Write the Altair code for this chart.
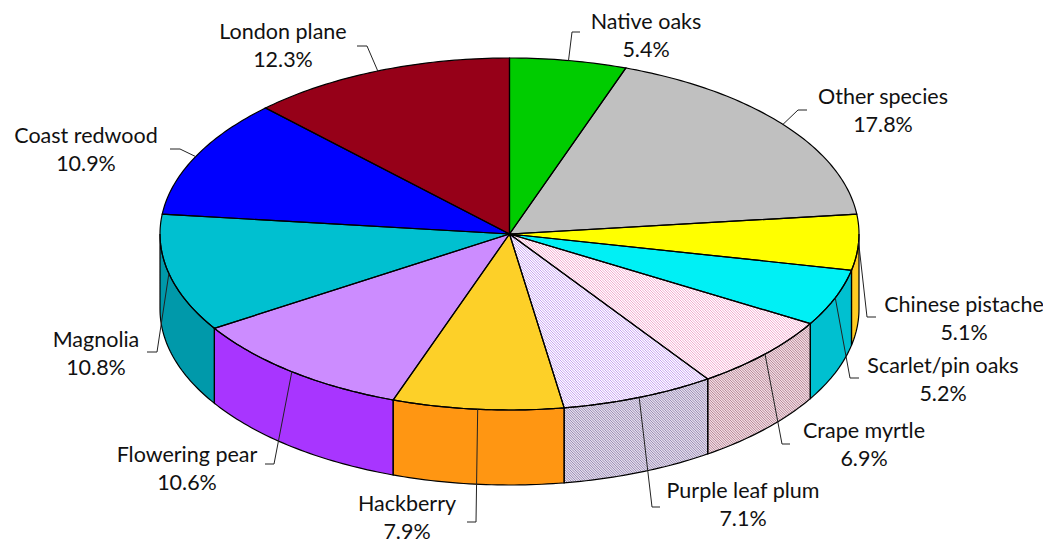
import math
import altair as alt

# ---- chart values -------------------------------------------------------
species = ["Native oaks", "Other species", "Chinese pistache", "Scarlet/pin oaks",
           "Crape myrtle", "Purple leaf plum", "Hackberry", "Flowering pear",
           "Magnolia", "Coast redwood", "London plane"]
shares = [5.4, 17.8, 5.1, 5.2, 6.9, 7.1, 7.9, 10.6, 10.8, 10.9, 12.3]

# ---- styles -------------------------------------------------------------
top_colors = ["#00CC00", "#C0C0C0", "#FFFF00", "#00F0F5", "#FFFFFF", "#FFFFFF",
              "#FDD028", "#CC8CFF", "#00C0D0", "#0000FF", "#960018"]
side_colors = ["#00A000", "#A0A0A0", "#FFCC22", "#00C0D0", "#F2DFE3", "#E4DEEC",
               "#FF9612", "#A835FF", "#0099AA", "#0000C0", "#700010"]
top_hatch = {4: "#EE90C0", 5: "#B888EE"}
side_hatch = {4: "#A87088", 5: "#8878A8"}

# ---- layout (page pixels) -----------------------------------------------
CX, CY, RX, RY, DEPTH = 509.5, 234.0, 349.5, 176.0, 75.0
MARGIN = 8
W, H = 1035, 536
LINE_GAP = 27.5
label_x = [646, 883, 964, 943, 864, 743, 407, 187, 96, 86, 283]
label_y = [23, 98, 306, 367, 432, 492, 505, 456, 341, 137, 33]
elbow = [(572, 32, 580), (798, 110, 807), (867, 317, 876), (850, 378, 859),
         (782, 444, 790), (652, 507, 660), (476, 522, 467), (274, 464, 265),
         (157, 352, 147), (180, 149, 170), (367, 46, 357)]
FONT = "Lato"
FONT_SIZE = 21.5


def pt(frac, dy=0.0):
    a = 2 * math.pi * frac
    return (CX + RX * math.sin(a) - MARGIN, CY - RY * math.cos(a) + dy - MARGIN)


def arc(f0, f1, dy=0.0):
    n = max(2, int(abs(f1 - f0) * 400))
    return [pt(f0 + (f1 - f0) * i / n, dy) for i in range(n + 1)]


def hatch(poly, step):
    """Clip diagonal lines to a polygon."""
    us = [p[0] - p[1] for p in poly]
    segs = []
    u = math.floor(min(us) / step) * step
    while u <= max(us):
        xs = []
        for (x0, y0), (x1, y1), a, b in zip(poly, poly[1:] + poly[:1], us, us[1:] + us[:1]):
            if (a <= u) != (b <= u):
                t = (u - a) / (b - a)
                xs.append(x0 + t * (x1 - x0))
        xs.sort()
        for i in range(0, len(xs) - 1, 2):
            segs.append([[xs[i], xs[i] - u], [xs[i + 1], xs[i + 1] - u]])
        u += step
    return segs


def feature(geom_type, coords, **props):
    return {"type": "Feature", "geometry": {"type": geom_type, "coordinates": coords},
            "properties": props}


def ring(points):
    pts = [list(p) for p in points]
    return [pts + [pts[0]]]


faces, hatches, leaders, labels = [], [], [], []
cum = 0.0
total = sum(shares)
bounds = []
for s in shares:
    bounds.append((cum / total, (cum + s) / total))
    cum += s

# walls (visible only on the front half of the disc)
for i, (f0, f1) in enumerate(bounds):
    a, b = max(f0, 0.25), min(f1, 0.75)
    if a < b:
        poly = arc(a, b) + arc(b, a, DEPTH)
        faces.append(feature("Polygon", ring(poly), fill=side_colors[i]))
        if i in side_hatch:
            hatches.append(feature("MultiLineString", hatch(poly, 2.5), stroke=side_hatch[i]))

# top surface
for i, (f0, f1) in enumerate(bounds):
    poly = [(CX - MARGIN, CY - MARGIN)] + arc(f0, f1)
    faces.append(feature("Polygon", ring(poly), fill=top_colors[i]))
    if i in top_hatch:
        hatches.append(feature("MultiLineString", hatch(poly, 2.5), stroke=top_hatch[i]))

# labels and leader lines
for i, (f0, f1) in enumerate(bounds):
    ex, ey, ex2 = elbow[i]
    start = pt((f0 + f1) / 2)
    leaders.append(feature("LineString",
                           [list(start), [ex - MARGIN, ey - MARGIN], [ex2 - MARGIN, ey - MARGIN]]))
    labels.append({"x": label_x[i] - MARGIN, "y": label_y[i] - MARGIN, "text": species[i]})
    labels.append({"x": label_x[i] - MARGIN, "y": label_y[i] - MARGIN + LINE_GAP,
                   "text": f"{shares[i]}%"})

proj = dict(type="identity", scale=1, translate=[0, 0])

fill_layer = (alt.Chart(alt.Data(values=faces)).mark_geoshape(strokeWidth=0)
              .encode(fill=alt.Fill("properties.fill:N", scale=None)).project(**proj))
hatch_layer = (alt.Chart(alt.Data(values=hatches)).mark_geoshape(filled=False, strokeWidth=0.8)
               .encode(stroke=alt.Stroke("properties.stroke:N", scale=None)).project(**proj))
outline_layer = (alt.Chart(alt.Data(values=faces))
                 .mark_geoshape(filled=False, stroke="#000000", strokeWidth=1.2).project(**proj))
leader_layer = (alt.Chart(alt.Data(values=leaders))
                .mark_geoshape(filled=False, stroke="#222222", strokeWidth=1).project(**proj))
text_layer = alt.Chart(alt.Data(values=labels)).mark_text(
    font=FONT, fontSize=FONT_SIZE, color="#111111", align="center", baseline="middle",
).encode(
    x=alt.X("x:Q", scale=alt.Scale(domain=[0, W]), axis=None),
    y=alt.Y("y:Q", scale=alt.Scale(domain=[H, 0]), axis=None),
    text="text:N",
)

chart = (
    alt.layer(fill_layer, hatch_layer, outline_layer, leader_layer, text_layer)
    .properties(width=W, height=H, padding=0, autosize=alt.AutoSizeParams(type="none"),
                background="#FFFFFF")
    .configure_view(stroke=None)
)
chart.save("out.html", embed_options={"renderer": "svg", "actions": False})
